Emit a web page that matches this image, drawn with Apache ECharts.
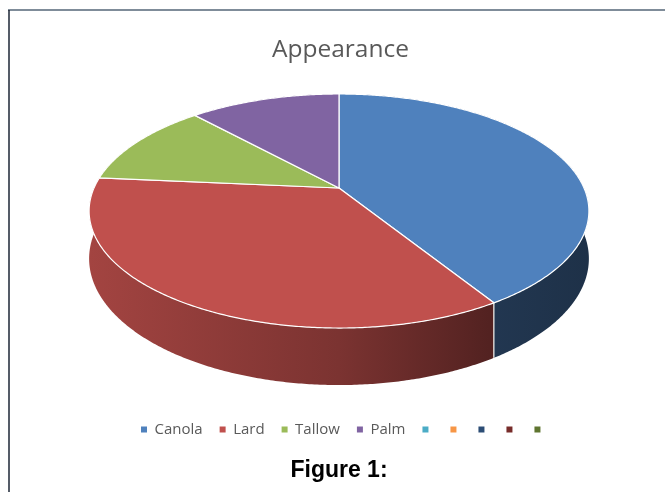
<!DOCTYPE html>
<html>
<head>
<meta charset="utf-8">
<script src="https://cdn.jsdelivr.net/npm/echarts@6/dist/echarts.min.js"></script>
<style>
  html, body { margin: 0; padding: 0; background: #ffffff; }
  #chart { width: 665px; height: 492px; }
</style>
</head>
<body>
<div id="chart"></div>
<script>
// Pie data
const categories = ['Canola', 'Lard', 'Tallow', 'Palm'];
const values = [3.5, 3, 1, 1];
// Legend entries (the last five have no label and no value)
const legendLabels = ['Canola', 'Lard', 'Tallow', 'Palm', '', '', '', '', ''];
const palette = ['#4F81BD', '#C0504D', '#9BBB59', '#8064A2', '#4BACC6', '#F79646', '#2C4D75', '#772C2A', '#5F7530'];

// Geometry of the tilted disc (perspective view)
const CX = 339, CY = 188;     // projected centre of the disc
const RX = 245, RY = 112.5;   // horizontal / vertical radius factors
const PERSP = 0.1966;         // far side shrinks by this factor
const DEPTH = 45.8;           // thickness of the disc

const total = values.reduce((a, b) => a + b, 0);
const starts = [], ends = [];
let acc = 0;
values.forEach(v => {
  starts.push(acc / total * Math.PI * 2);
  acc += v;
  ends.push(acc / total * Math.PI * 2);
});

// angle measured clockwise from the far (top) point of the disc
function proj(t, drop) {
  const u = Math.sin(t), v = Math.cos(t), w = 1 + PERSP * v;
  return [CX + RX * u / w, CY - RY * v / w + drop * DEPTH / w];
}
function arc(t1, t2, drop) {
  const n = Math.max(2, Math.ceil((t2 - t1) / (Math.PI / 360)));
  const pts = [];
  for (let k = 0; k <= n; k++) pts.push(proj(t1 + (t2 - t1) * k / n, drop));
  return pts;
}
function shade(hex, f) {
  const r = parseInt(hex.slice(1, 3), 16), g = parseInt(hex.slice(3, 5), 16), b = parseInt(hex.slice(5, 7), 16);
  return 'rgb(' + Math.round(r * f) + ',' + Math.round(g * f) + ',' + Math.round(b * f) + ')';
}

function sliceRenderer(i) {
  return function () {
    const t1 = starts[i], t2 = ends[i];
    const color = palette[i];
    const topPts = [[CX, CY]].concat(arc(t1, t2, 0));
    const sidePts = arc(t1, t2, 0).concat(arc(t1, t2, 1).reverse());
    const left = CX - RX * 1.02, right = CX + RX * 1.02;
    const children = [
      {
        type: 'polygon', z2: 1,
        shape: { points: sidePts },
        style: {
          fill: {
            type: 'linear', x: left, y: 0, x2: right, y2: 0, global: true,
            colorStops: [
              { offset: 0, color: shade(color, 0.85) },
              { offset: 0.5, color: shade(color, 0.64) },
              { offset: 0.8, color: shade(color, 0.43) },
              { offset: 1, color: shade(color, 0.38) }
            ]
          },
          stroke: null
        }
      }
    ];
    // wall edge where the slice starts, if it lies on the visible front
    if (Math.cos(t1) < -PERSP) {
      const a = proj(t1, 0), b = proj(t1, 1);
      children.push({
        type: 'line', z2: 5,
        shape: { x1: a[0], y1: a[1], x2: b[0], y2: b[1] },
        style: { stroke: '#f4f4f0', lineWidth: 1.2 }
      });
    }
    children.push({
      type: 'polygon', z2: 10,
      shape: { points: topPts },
      style: { fill: color, stroke: '#ffffff', lineWidth: 1.2, lineJoin: 'round' }
    });
    return { type: 'group', children: children };
  };
}

const seriesNames = legendLabels.map((l, i) => l || ('extra-' + (i + 1)));
const labelOf = {};
seriesNames.forEach((n, i) => { labelOf[n] = legendLabels[i]; });

const series = seriesNames.map((name, i) => ({
  type: 'custom',
  name: name,
  coordinateSystem: 'none',
  silent: true,
  animation: false,
  itemStyle: { color: palette[i] },
  emphasis: { disabled: true },
  data: i < values.length ? [values[i]] : [],
  renderItem: sliceRenderer(i)
}));

// legend items: labelled ones get a little extra room around the text
const legendData = seriesNames.map((name, i) => (
  legendLabels[i]
    ? { name: name, textStyle: { padding: [0, 1, 0, 2.5] } }
    : { name: name }
));

const chart = echarts.init(document.getElementById('chart'), null, { renderer: 'canvas' });
chart.setOption({
  backgroundColor: '#ffffff',
  animation: false,
  title: {
    text: 'Appearance',
    left: 267,
    top: 33,
    textStyle: { fontFamily: 'Open Sans', fontSize: 24.5, fontWeight: 'normal', color: '#595959' }
  },
  legend: {
    data: legendData,
    left: 141,
    top: 422,
    padding: 0,
    icon: 'rect',
    itemWidth: 6,
    itemHeight: 6,
    itemGap: 17,
    selectedMode: false,
    formatter: name => labelOf[name] || '\u200B',
    textStyle: { fontFamily: 'Open Sans', fontSize: 15, color: '#595959' }
  },
  graphic: [
    { type: 'line', shape: { x1: 8, y1: 10, x2: 665, y2: 10 }, style: { stroke: '#7f8c99', lineWidth: 2 } },
    { type: 'line', shape: { x1: 9, y1: 10, x2: 9, y2: 492 }, style: { stroke: '#1d2636', lineWidth: 1.5 } },
    {
      type: 'text', x: 339, y: 471,
      style: {
        text: 'Figure 1:', textAlign: 'center', textVerticalAlign: 'middle',
        font: 'bold 23px "Liberation Sans", Arial, sans-serif', fill: '#000000'
      }
    }
  ],
  series: series
});
</script>
</body>
</html>
